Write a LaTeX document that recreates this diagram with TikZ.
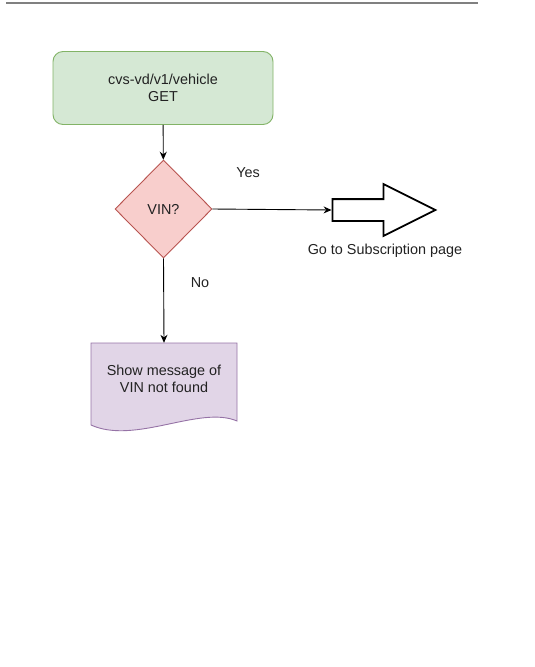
\documentclass[tikz,border=0pt]{standalone}
\usepackage{fontspec}
\setmainfont{Liberation Sans}
\usetikzlibrary{shapes.geometric,shapes.arrows,arrows.meta}
\definecolor{apifill}{HTML}{D5E8D4}
\definecolor{apiline}{HTML}{82B366}
\definecolor{vinfill}{HTML}{F8CECC}
\definecolor{vinline}{HTML}{B85450}
\definecolor{msgfill}{HTML}{E1D5E7}
\definecolor{msgline}{HTML}{9673A6}
\definecolor{txt}{HTML}{222222}
\begin{document}
\begin{tikzpicture}[x=1pt,y=-1pt,
		every node/.style={font=\fontsize{14.4}{17}\selectfont,text=txt,inner sep=0pt},
		flow/.style={draw=black,line width=0.9pt,-{Stealth[length=8pt,width=7pt]}}]
		\useasboundingbox (0,0) rectangle (535,667);
		\draw[gray,line width=2pt] (6,2.5) -- (478,2.5);

		\node[draw=apiline,fill=apifill,line width=0.9pt,rounded corners=10pt,
			minimum width=220pt,minimum height=73pt,align=center] (api) at (163,88) {cvs-vd/v1/vehicle\\GET};
		\node[diamond,draw=vinline,fill=vinfill,line width=0.9pt,aspect=1,
			minimum width=97pt,minimum height=98pt] (vin) at (163.5,209) {VIN?};
		\node[single arrow,draw=black,fill=white,line width=1.8pt,inner xsep=0pt,inner ysep=10pt,
			minimum height=103pt,single arrow head extend=15pt,
			single arrow tip angle=53] (goto) at (373,210) {};

		% document shape
		\draw[draw=msgline,fill=msgfill,line width=0.9pt] (91,343) -- (237,343) -- (237,421)
			.. controls (200,405) and (135,445) .. (91,425) -- cycle;
		\node[minimum width=146pt,minimum height=72pt,align=center] (msg) at (164,379) {Show message of\\VIN not found};

		\node (yes) at (248,173) {Yes};
		\node (no) at (200,283) {No};
		\node (sub) at (385,251) {Go to Subscription page};

		\draw[flow] (api) -- (vin);
		\draw[flow] (vin.east) -- (goto.tail);
		\draw[flow] (vin.south) -- (msg.north);
	\end{tikzpicture}
\end{document}
